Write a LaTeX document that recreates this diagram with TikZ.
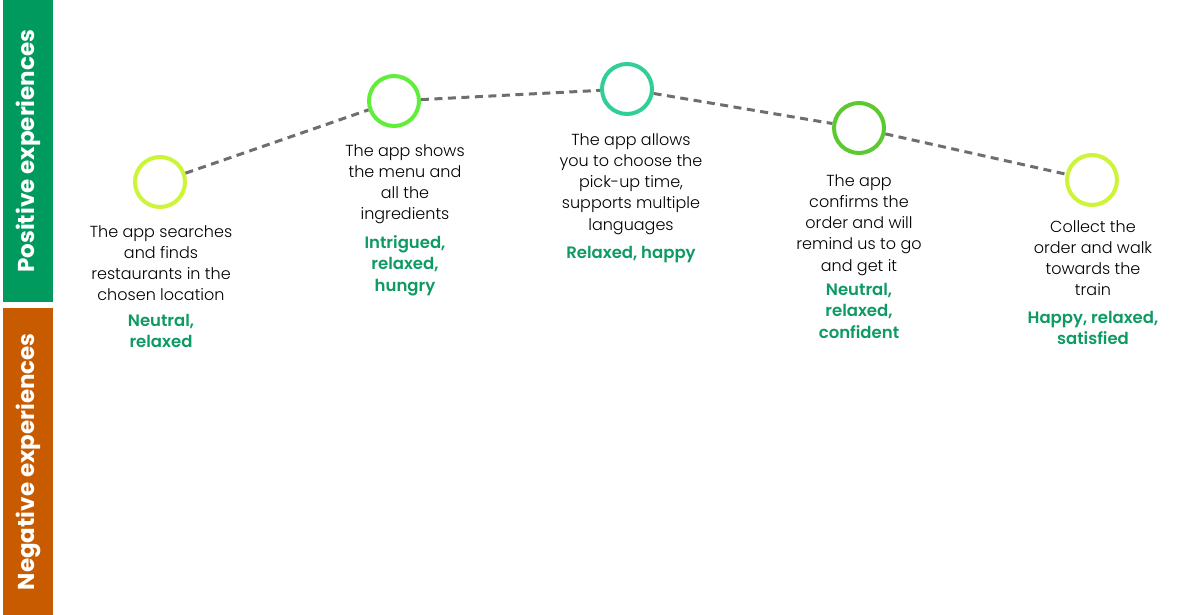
\documentclass[tikz,border=0pt]{standalone}
\usepackage{fontspec}
\setmainfont{Poppins}[UprightFont=* Light, BoldFont=* SemiBold]
\newfontfamily\bandfont{Poppins}[UprightFont=* Bold]
\definecolor{posgreen}{HTML}{009A5E}
\definecolor{negorange}{HTML}{C85A00}
\definecolor{emo}{HTML}{0E9A63}
\definecolor{dashgray}{HTML}{6E6E6E}
\definecolor{cA}{HTML}{CCF538}
\definecolor{cB}{HTML}{60EE3A}
\definecolor{cC}{HTML}{30CF95}
\definecolor{cD}{HTML}{5DC930}
\begin{document}
\begin{tikzpicture}[x=1pt,y=-1pt,
  band/.style={draw=none,minimum width=50,inner sep=0,anchor=north west},
  bandtext/.style={text=white,font=\bandfont\fontsize{23}{25}\selectfont,rotate=90},
  stage/.style={circle,draw=#1,line width=4,minimum size=50,inner sep=0,fill=white},
  desc/.style={align=center,anchor=north,inner sep=0,font=\fontsize{16}{21.3}\selectfont},
  emotion/.style={align=center,anchor=north,inner sep=0,text=emo,font=\fontsize{16.5}{21.5}\selectfont\bfseries},
  link/.style={draw=dashgray,line width=3,dash pattern=on 8 off 5.5}]
\useasboundingbox (0,0) rectangle (1200,615);
\node[band,fill=posgreen,minimum height=302] (pos) at (3,0) {};
\node[band,fill=negorange,minimum height=307] (neg) at (3,308) {};
\node[bandtext] (posl) at (pos.center) {Positive experiences};
\node[bandtext] (negl) at (neg.center) {Negative experiences};

\node[stage=cA] (s1) at (160,182) {};
\node[stage=cB] (s2) at (394,101) {};
\node[stage=cC] (s3) at (627,89) {};
\node[stage=cD] (s4) at (859,128) {};
\node[stage=cA] (s5) at (1092,180) {};

\draw[link] (s1) -- (s2);
\draw[link] (s2) -- (s3);
\draw[link] (s3) -- (s4);
\draw[link] (s4) -- (s5);

\node[desc] (d1) at (161,225) {The app searches\\and finds\\restaurants in the\\chosen location};
\node[emotion] (e1) at (161,314) {Neutral,\\relaxed};
\node[desc] (d2) at (405,144) {The app shows\\the menu and\\all the\\ingredients};
\node[emotion] (e2) at (405,235) {Intrigued,\\relaxed,\\hungry};
\node[desc] (d3) at (631,133) {The app allows\\you to choose the\\pick-up time,\\supports multiple\\languages};
\node[emotion] (e3) at (631,246) {Relaxed, happy};
\node[desc] (d4) at (859,174) {The app\\confirms the\\order and will\\remind us to go\\and get it};
\node[emotion] (e4) at (859,283) {Neutral,\\relaxed,\\confident};
\node[desc] (d5) at (1093,220) {Collect the\\order and walk\\towards the\\train};
\node[emotion] (e5) at (1093,311) {Happy, relaxed,\\satisfied};
\end{tikzpicture}
\end{document}
